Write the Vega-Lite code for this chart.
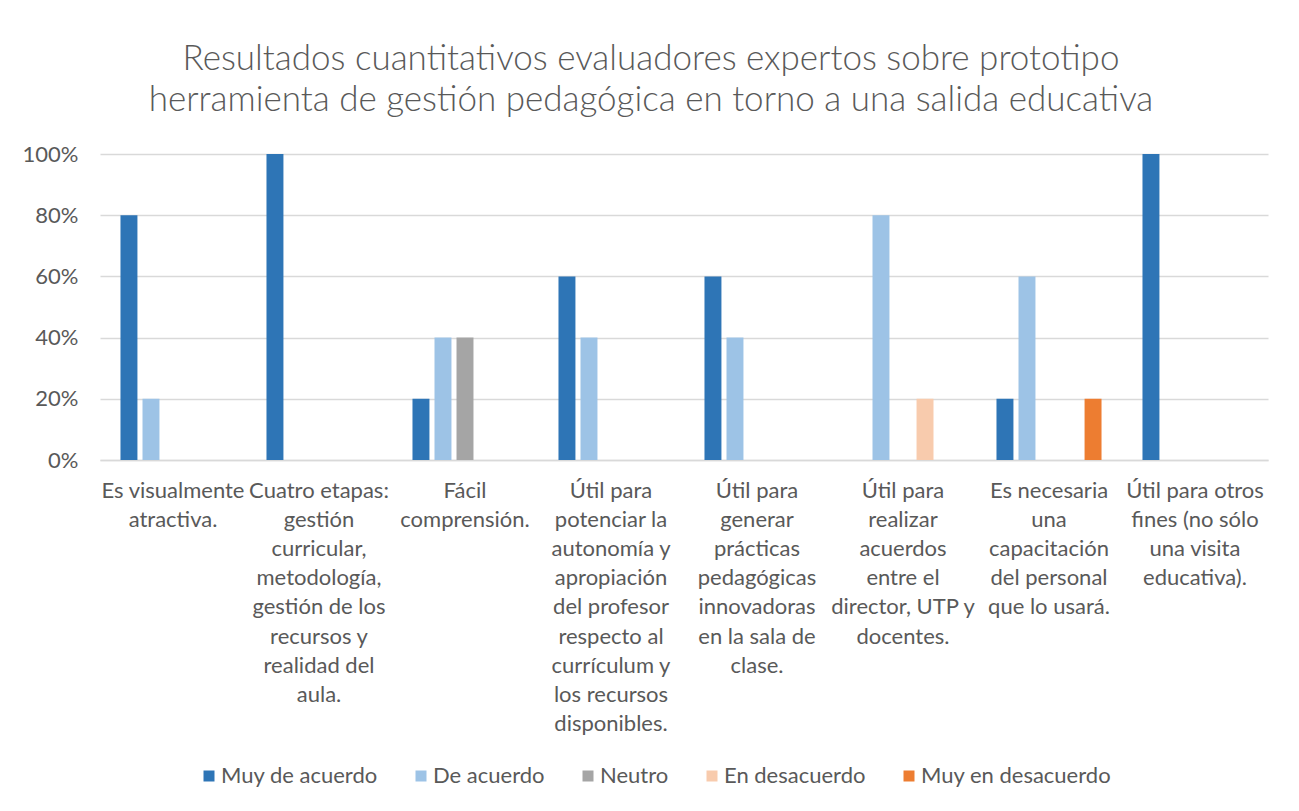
{
  "$schema": "https://vega.github.io/schema/vega-lite/v6.json",
  "width": 1168,
  "height": 306,
  "autosize": {"type": "none"},
  "padding": {"left": 100, "top": 154, "right": 31, "bottom": 351},
  "background": "white",
  "title": {
    "text": ["Resultados cuantitativos evaluadores expertos sobre prototipo", "herramienta de gestión pedagógica en torno a una salida educativa"],
    "font": "Lato",
    "fontSize": 35,
    "fontWeight": 300,
    "color": "#595959",
    "anchor": "middle",
    "frame": "group",
    "dx": -33,
    "offset": 25,
    "lineHeight": 41
  },
  "config": {"view": {"stroke": null}, "font": "Lato"},
  "data": {
    "values": [
      {"cat": "Es visualmente|atractiva.", "serie": "Muy de acuerdo", "valor": 0.8},
      {"cat": "Es visualmente|atractiva.", "serie": "De acuerdo", "valor": 0.2},
      {"cat": "Cuatro etapas:|gestión|curricular,|metodología,|gestión de los|recursos y|realidad del|aula.", "serie": "Muy de acuerdo", "valor": 1.0},
      {"cat": "Fácil|comprensión.", "serie": "Muy de acuerdo", "valor": 0.2},
      {"cat": "Fácil|comprensión.", "serie": "De acuerdo", "valor": 0.4},
      {"cat": "Fácil|comprensión.", "serie": "Neutro", "valor": 0.4},
      {"cat": "Útil para|potenciar la|autonomía y|apropiación|del profesor|respecto al|currículum y|los recursos|disponibles.", "serie": "Muy de acuerdo", "valor": 0.6},
      {"cat": "Útil para|potenciar la|autonomía y|apropiación|del profesor|respecto al|currículum y|los recursos|disponibles.", "serie": "De acuerdo", "valor": 0.4},
      {"cat": "Útil para|generar|prácticas|pedagógicas|innovadoras|en la sala de|clase.", "serie": "Muy de acuerdo", "valor": 0.6},
      {"cat": "Útil para|generar|prácticas|pedagógicas|innovadoras|en la sala de|clase.", "serie": "De acuerdo", "valor": 0.4},
      {"cat": "Útil para|realizar|acuerdos|entre el|director, UTP y|docentes.", "serie": "De acuerdo", "valor": 0.8},
      {"cat": "Útil para|realizar|acuerdos|entre el|director, UTP y|docentes.", "serie": "En desacuerdo", "valor": 0.2},
      {"cat": "Es necesaria|una|capacitación|del personal|que lo usará.", "serie": "Muy de acuerdo", "valor": 0.2},
      {"cat": "Es necesaria|una|capacitación|del personal|que lo usará.", "serie": "De acuerdo", "valor": 0.6},
      {"cat": "Es necesaria|una|capacitación|del personal|que lo usará.", "serie": "Muy en desacuerdo", "valor": 0.2},
      {"cat": "Útil para otros|fines (no sólo|una visita|educativa).", "serie": "Muy de acuerdo", "valor": 1.0}
    ]
  },
  "mark": {"type": "bar"},
  "encoding": {
    "x": {
      "field": "cat",
      "type": "nominal",
      "sort": null,
      "scale": {"paddingInner": 0, "paddingOuter": 0},
      "axis": {
        "title": null,
        "labelAngle": 0,
        "labelExpr": "split(datum.value, '|')",
        "labelFont": "Lato",
        "labelFontSize": 22,
        "labelColor": "#595959",
        "labelLineHeight": 29.2,
        "labelPadding": 20,
        "labelBaseline": "top",
        "labelLimit": 0,
        "labelOverlap": false,
        "ticks": false,
        "domainColor": "#D9D9D9",
        "domainWidth": 1.5
      }
    },
    "xOffset": {
      "field": "serie",
      "type": "nominal",
      "scale": {
        "domain": ["Muy de acuerdo", "De acuerdo", "Neutro", "En desacuerdo", "Muy en desacuerdo"],
        "paddingInner": 0.23,
        "paddingOuter": 0.93
      }
    },
    "y": {
      "field": "valor",
      "type": "quantitative",
      "scale": {"domain": [0, 1]},
      "axis": {
        "title": null,
        "format": ".0%",
        "values": [0, 0.2, 0.4, 0.6, 0.8, 1],
        "domain": false,
        "ticks": false,
        "labelFont": "Lato",
        "labelFontSize": 22,
        "labelColor": "#595959",
        "labelPadding": 22,
        "gridColor": "#D9D9D9",
        "gridWidth": 1.5
      }
    },
    "color": {
      "field": "serie",
      "type": "nominal",
      "scale": {
        "domain": ["Muy de acuerdo", "De acuerdo", "Neutro", "En desacuerdo", "Muy en desacuerdo"],
        "range": ["#2E75B6", "#9DC3E6", "#A5A5A5", "#F8CBAD", "#ED7D31"]
      },
      "legend": {
        "title": null,
        "orient": "none",
        "legendX": 98,
        "legendY": 611,
        "direction": "horizontal",
        "symbolType": "square",
        "symbolSize": 121,
        "symbolStrokeWidth": 0,
        "symbolOpacity": 1,
        "labelFont": "Lato",
        "labelFontSize": 22,
        "labelColor": "#595959",
        "labelOffset": 1,
        "labelLimit": 0,
        "columnPadding": 32
      }
    }
  }
}
